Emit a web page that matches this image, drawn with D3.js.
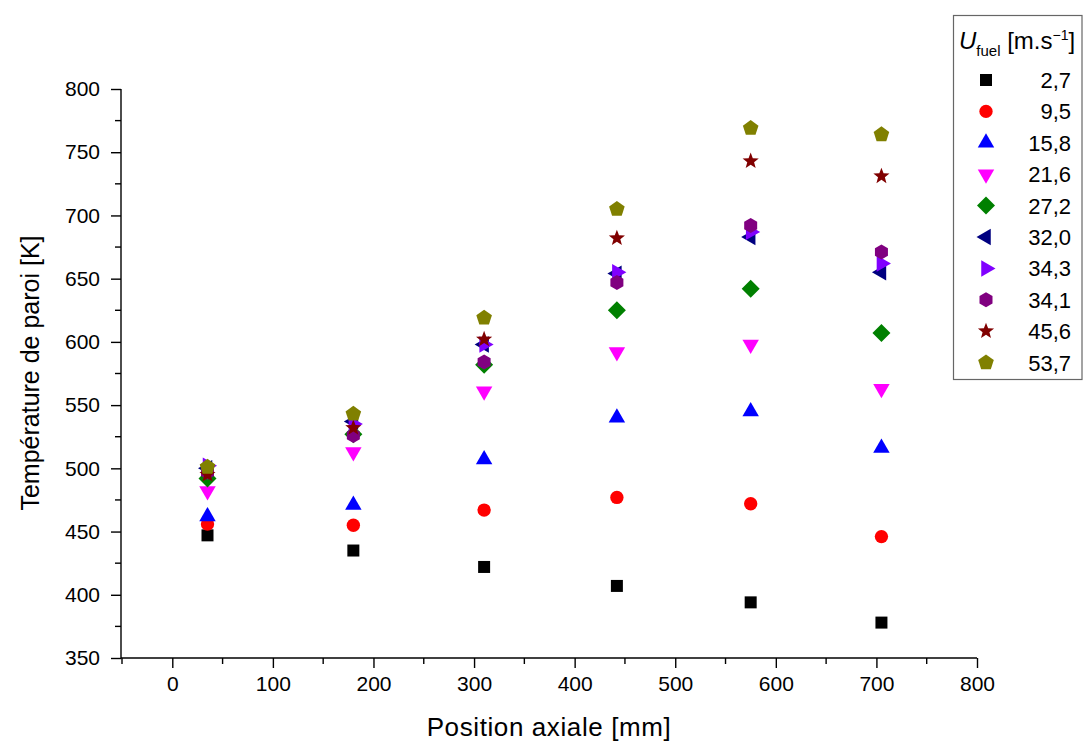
<!DOCTYPE html>
<html><head><meta charset="utf-8">
<script src="https://cdn.jsdelivr.net/npm/d3@7"></script>
<style>body{margin:0;background:#fff}svg{display:block}text{font-family:"Liberation Sans",Arial,sans-serif}</style>
</head><body>
<script>
const positions = [35, 180, 310, 442, 575, 705];
const seriesNames = ["2,7","9,5","15,8","21,6","27,2","32,0","34,3","34,1","45,6","53,7"];
const s27 = [447, 435, 422, 407, 394, 378];
const s95 = [456, 455, 467, 477, 472, 446];
const s158 = [462, 471, 507, 540, 545, 516];
const s216 = [482, 513, 561, 592, 598, 563];
const s272 = [492, 527, 582, 625, 642, 607];
const s320 = [500, 537, 598, 654, 683, 655];
const s343 = [502, 535, 598, 655, 687, 662];
const s341 = [497, 526, 584, 647, 692, 671];
const s456 = [495, 532, 602, 682, 743, 731];
const s537 = [501, 543, 619, 705, 769, 764];
const seriesValues = [s27, s95, s158, s216, s272, s320, s343, s341, s456, s537];
const colors = ["#000000","#ff0000","#0000ff","#ff00ff","#008000","#000080","#8000ff","#800080","#800000","#808000"];
const xTicks = [0,100,200,300,400,500,600,700,800];
const yTicks = [350,400,450,500,550,600,650,700,750,800];

const W = 1083, H = 744;
const svg = d3.select("body").append("svg").attr("width", W).attr("height", H);
const x = d3.scaleLinear().domain([-50, 800]).range([122, 977]);
const y = d3.scaleLinear().domain([350, 800]).range([658, 89]);

function poly(n, r, rot) {
  const pts = [];
  for (let i = 0; i < n; i++) {
    const a = rot + i * 2 * Math.PI / n;
    pts.push([r * Math.sin(a), -r * Math.cos(a)]);
  }
  return "M" + pts.map(p => p[0].toFixed(2) + "," + p[1].toFixed(2)).join("L") + "Z";
}
function star(ro, ri) {
  const pts = [];
  for (let i = 0; i < 10; i++) {
    const a = i * Math.PI / 5;
    const r = i % 2 ? ri : ro;
    pts.push([r * Math.sin(a), -r * Math.cos(a)]);
  }
  return "M" + pts.map(p => p[0].toFixed(2) + "," + p[1].toFixed(2)).join("L") + "Z";
}
function tri(r, rot) { return poly(3, r, rot); }
const shapes = [
  "M-6,-6L6,-6L6,6L-6,6Z",
  d3.symbol().type(d3.symbolCircle).size(140)(),
  tri(9.5, 0),
  tri(9.5, Math.PI),
  poly(4, 9, 0),
  tri(9.5, -Math.PI/2),
  tri(9.5, Math.PI/2),
  poly(6, 7.5, 0),
  star(8.5, 3.6),
  poly(5, 8.2, 0)
];

// axes
const g = svg.append("g");
const xAxis = d3.axisBottom(x).tickValues(xTicks).tickSize(10).tickPadding(8).tickFormat(d3.format("d"));
const xg = g.append("g").attr("transform", "translate(0,658)").call(xAxis);
const yAxis = d3.axisLeft(y).tickValues(yTicks).tickSize(10).tickPadding(11).tickFormat(d3.format("d"));
const yg = g.append("g").attr("transform", "translate(121,0)").call(yAxis);
[xg, yg].forEach(a => {
  a.select(".domain").attr("stroke", "#000").attr("stroke-width", 1.4);
  a.selectAll(".tick line").attr("stroke", "#000").attr("stroke-width", 1.4);
  a.selectAll("text").attr("font-size", 21).attr("fill", "#000").attr("font-family", "Liberation Sans, Arial, sans-serif");
});
xg.select(".domain").attr("d", "M121,0H977");
yg.select(".domain").attr("d", "M0,658V89");
// minor ticks
const xMinor = [-50,50,150,250,350,450,550,650,750];
g.append("g").selectAll("line").data(xMinor).join("line")
  .attr("x1", d => x(d)).attr("x2", d => x(d)).attr("y1", 658).attr("y2", 664)
  .attr("stroke", "#000").attr("stroke-width", 1.4);
const yMinor = [375,425,475,525,575,625,675,725,775];
g.append("g").selectAll("line").data(yMinor).join("line")
  .attr("x1", 121).attr("x2", 115).attr("y1", d => y(d)).attr("y2", d => y(d))
  .attr("stroke", "#000").attr("stroke-width", 1.4);

// titles
svg.append("text").attr("x", 549).attr("y", 736).attr("text-anchor", "middle")
  .attr("font-size", 26).attr("letter-spacing", 0.6).text("Position axiale [mm]");
svg.append("text").attr("transform", "translate(39,373) rotate(-90)").attr("text-anchor", "middle")
  .attr("font-size", 25).text("Température de paroi [K]");

// data
seriesValues.forEach((vals, si) => {
  svg.append("g").selectAll("path").data(vals).join("path")
    .attr("d", shapes[si])
    .attr("transform", (v, i) => `translate(${x(positions[i])},${y(v)})`)
    .attr("fill", colors[si]);
});

// legend
const lg = svg.append("g");
lg.append("rect").attr("x", 953.5).attr("y", 15.5).attr("width", 128.5).attr("height", 364)
  .attr("fill", "#fff").attr("stroke", "#666").attr("stroke-width", 1.2);
const t = lg.append("text").attr("x", 959).attr("y", 49).attr("font-size", 24);
t.append("tspan").attr("font-style", "italic").text("U");
t.append("tspan").attr("font-size", 15).attr("dy", 7).text("fuel");
t.append("tspan").attr("dy", -7).text(" [m.s");
t.append("tspan").attr("font-size", 14).attr("dy", -9).text("−1");
t.append("tspan").attr("dy", 9).text("]");
seriesNames.forEach((name, i) => {
  const yy = 80 + i * 31.4;
  lg.append("path").attr("d", shapes[i]).attr("transform", `translate(986,${yy})`).attr("fill", colors[i]);
  lg.append("text").attr("x", 1071).attr("y", yy + 8).attr("text-anchor", "end").attr("font-size", 22).text(name);
});
</script>
</body></html>
